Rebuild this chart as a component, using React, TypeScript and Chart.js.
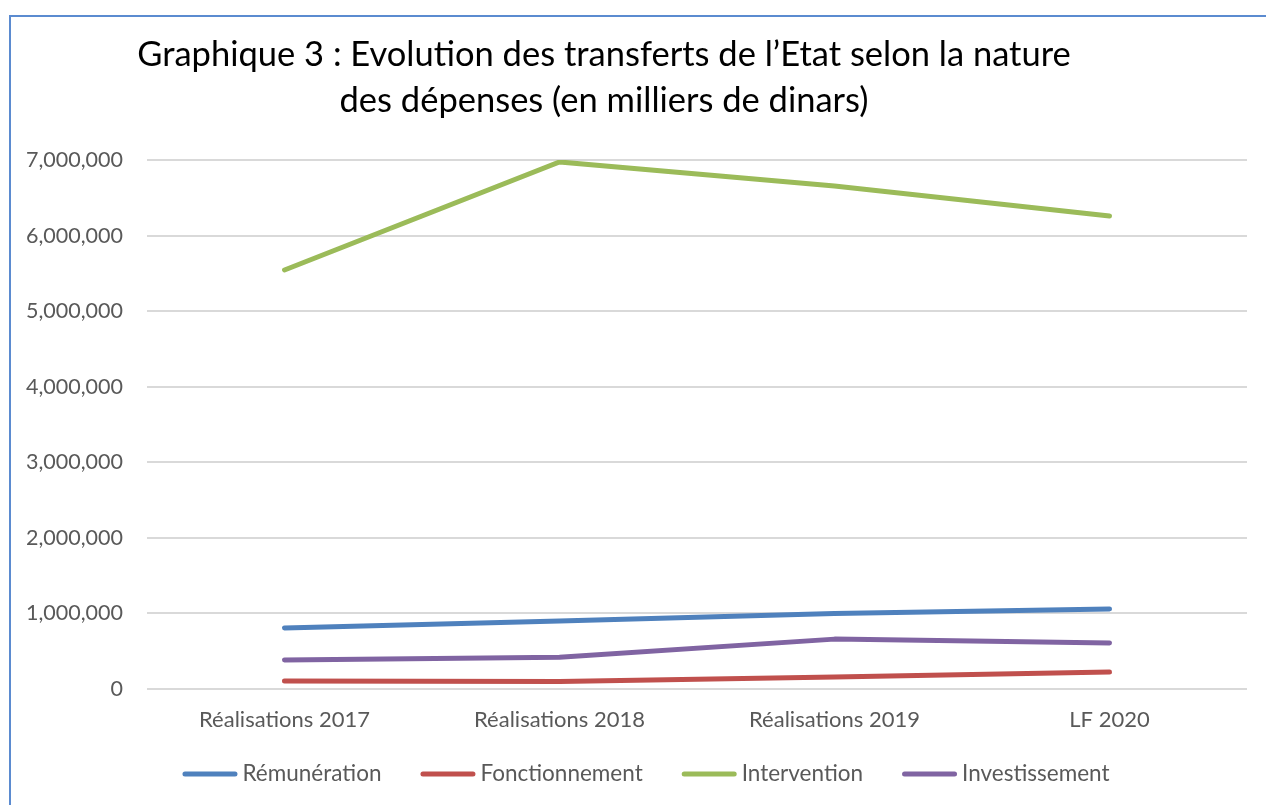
import React, { useEffect, useRef } from "react";
import { Chart, registerables } from "chart.js";

Chart.register(...registerables);

const categories = ["Réalisations 2017", "Réalisations 2018", "Réalisations 2019", "LF 2020"];
const remuneration = [807000, 900000, 1000000, 1060000];
const fonctionnement = [105000, 100000, 160000, 225000];
const intervention = [5545000, 6974000, 6656000, 6260000];
const investissement = [384000, 420000, 660000, 610000];
const titleLines = [
  "Graphique 3 : Evolution des transferts de l’Etat selon la nature",
  "des dépenses (en milliers de dinars)",
];

const FONT = "Lato, 'Open Sans', sans-serif";

const titlePlugin = {
  id: "customTitle",
  afterDraw(chart: any) {
    const ctx = chart.ctx;
    ctx.save();
    ctx.fillStyle = "#000000";
    ctx.font = `34.5px ${FONT}`;
    ctx.textAlign = "center";
    ctx.textBaseline = "alphabetic";
    ctx.fillText(titleLines[0], 593, 49);
    ctx.fillText(titleLines[1], 593, 95);
    ctx.restore();
  },
};

const legendPlugin = {
  id: "customLegend",
  afterDraw(chart: any) {
    const ctx = chart.ctx;
    ctx.save();
    ctx.font = `22.5px ${FONT}`;
    const sample = 55;
    const gap = 5;
    const itemGap = 39;
    const items = chart.data.datasets.map((ds: any) => ({
      label: ds.label as string,
      color: ds.borderColor as string,
      w: ctx.measureText(ds.label).width,
    }));
    const total =
      items.reduce((s: number, it: any) => s + sample + gap + it.w, 0) + itemGap * (items.length - 1);
    let x = 635 - total / 2;
    const y = 757;
    for (const it of items) {
      ctx.strokeStyle = it.color;
      ctx.lineWidth = 5;
      ctx.lineCap = "round";
      ctx.beginPath();
      ctx.moveTo(x + 2.5, y);
      ctx.lineTo(x + sample - 2.5, y);
      ctx.stroke();
      ctx.fillStyle = "#595959";
      ctx.textAlign = "left";
      ctx.textBaseline = "middle";
      ctx.fillText(it.label, x + sample + gap, y);
      x += sample + gap + it.w + itemGap;
    }
    ctx.restore();
  },
};

export default function App() {
  const ref = useRef<HTMLCanvasElement>(null);
  useEffect(() => {
    if (!ref.current) return;
    const mk = (label: string, data: number[], color: string) => ({
      label,
      data,
      borderColor: color,
      backgroundColor: color,
      borderWidth: 5,
      borderCapStyle: "round",
      borderJoinStyle: "round",
      pointRadius: 0,
      pointHoverRadius: 0,
      tension: 0,
      fill: false,
    });
    const chart = new Chart(ref.current, {
      type: "line",
      data: {
        labels: categories,
        datasets: [
          mk("Rémunération", remuneration, "#4f81bd"),
          mk("Fonctionnement", fonctionnement, "#c0504d"),
          mk("Intervention", intervention, "#9bbb59"),
          mk("Investissement", investissement, "#8064a2"),
        ] as any,
      },
      options: {
        animation: false,
        responsive: false,
        maintainAspectRatio: false,
        layout: { padding: { top: 143, right: 19, bottom: 74, left: 0 } },
        plugins: {
          title: { display: false },
          tooltip: { enabled: false },
          legend: { display: false },
        },
        scales: {
          x: {
            offset: true,
            grid: { display: false },
            border: { display: false },
            ticks: {
              color: "#595959",
              font: { family: FONT, size: 22 },
              padding: 10,
              maxRotation: 0,
            },
            afterFit(scale: any) {
              scale.height = 42;
            },
          },
          y: {
            min: 0,
            max: 7000000,
            border: { display: false },
            grid: { color: "#d9d9d9", lineWidth: 2, drawTicks: false },
            ticks: {
              stepSize: 1000000,
              color: "#595959",
              font: { family: FONT, size: 21.5 },
              padding: 24,
              callback: (v: any) => Number(v).toLocaleString("en-US"),
            },
            afterFit(scale: any) {
              scale.width = 136;
            },
          },
        },
      } as any,
      plugins: [titlePlugin, legendPlugin],
    });
    return () => chart.destroy();
  }, []);

  return (
    <div
      style={{
        position: "fixed",
        left: 9,
        top: 15,
        width: 1300,
        height: 820,
        borderLeft: "2px solid #5b8bd0",
        borderTop: "2px solid #5b8bd0",
        background: "#fff",
      }}
    >
      <canvas ref={ref} width={1255} height={788} style={{ display: "block", width: 1255, height: 788 }} />
    </div>
  );
}
